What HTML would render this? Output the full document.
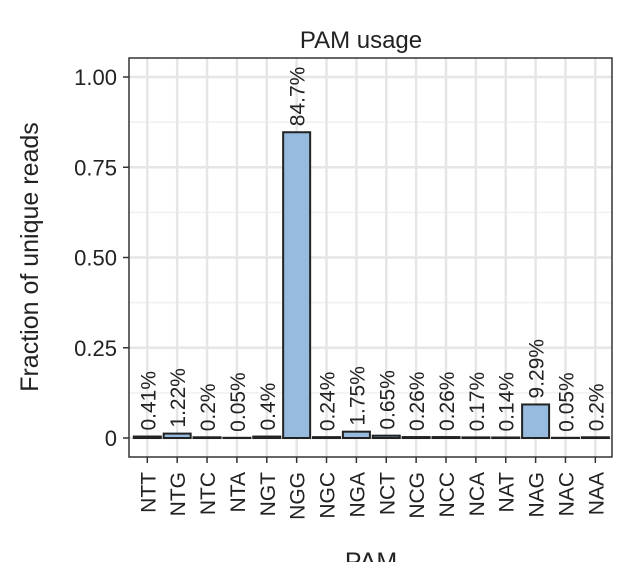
<!DOCTYPE html>
<html><head><meta charset="utf-8"><style>
body{margin:0;background:#fff}
svg{display:block;font-family:"Liberation Sans",sans-serif}
</style></head><body>
<svg id="c" width="630" height="562" viewBox="0 0 630 562">
<text x="361" y="48" font-size="24" text-anchor="middle" fill="#222">PAM usage</text>
<text transform="translate(38,257) rotate(-90)" font-size="25" text-anchor="middle" fill="#222">Fraction of unique reads</text>
<text x="371" y="570" font-size="25" text-anchor="middle" fill="#222">PAM</text>
<g id="grid"></g><g id="bars"></g><g id="axes"></g>
</svg>
<script>
const categories=["NTT","NTG","NTC","NTA","NGT","NGG","NGC","NGA","NCT","NCG","NCC","NCA","NAT","NAG","NAC","NAA"];
const values=[0.0041,0.0122,0.002,0.0005,0.004,0.847,0.0024,0.0175,0.0065,0.0026,0.0026,0.0017,0.0014,0.0929,0.0005,0.002];
const valueLabels=["0.41%","1.22%","0.2%","0.05%","0.4%","84.7%","0.24%","1.75%","0.65%","0.26%","0.26%","0.17%","0.14%","9.29%","0.05%","0.2%"];
const yTicks=[0,0.25,0.5,0.75,1];
const yTickLabels=["0","0.25","0.50","0.75","1.00"];
const NS="http://www.w3.org/2000/svg";
const L=129,R=612,T=58,B=457;
const x=i=>147.3+i*29.87;
const y=v=>438-v*361;
function mk(t,a,p){const e=document.createElementNS(NS,t);for(const k in a)e.setAttribute(k,a[k]);p.appendChild(e);return e;}
const g=document.getElementById('grid'),b=document.getElementById('bars'),ax=document.getElementById('axes');
mk('rect',{x:L,y:T,width:R-L,height:B-T,fill:'#fff'},g);
for(let k=0;k<yTicks.length-1;k++){const v=(yTicks[k]+yTicks[k+1])/2;const l=mk('line',{x1:L,x2:R,y1:y(v),y2:y(v),stroke:'#f0f0f0','stroke-width':1.5},g);

}
yTicks.forEach(v=>{const l=mk('line',{x1:L,x2:R,y1:y(v),y2:y(v),stroke:'#e6e6e6','stroke-width':2.5},g);

});
categories.forEach((c,i)=>{const l=mk('line',{x1:x(i),x2:x(i),y1:T,y2:B,stroke:'#e6e6e6','stroke-width':2.5},g);

});
const bw=27;
categories.forEach((c,i)=>{
const v=values[i];const top=y(v);
const r=mk('rect',{x:x(i)-bw/2,y:top,width:bw,height:Math.max(y(0)-top,0.1),fill:'#97badf',stroke:'#222','stroke-width':2},b);


const t=mk('text',{transform:`translate(${x(i)+8},${top-6}) rotate(-90)`,'font-size':21,fill:'#222'},b);
t.textContent=valueLabels[i];


const tk=mk('line',{x1:x(i),x2:x(i),y1:B,y2:B+6,stroke:'#333','stroke-width':1.5},ax);


const tl=mk('text',{transform:`translate(${x(i)+8},${B+15}) rotate(-90)`,'font-size':21,fill:'#222','text-anchor':'end'},ax);
tl.textContent=c;


});
yTicks.forEach((v,k)=>{
const tk=mk('line',{x1:L-6,x2:L,y1:y(v),y2:y(v),stroke:'#333','stroke-width':1.5},ax);


const tl=mk('text',{x:L-12,y:y(v)+8,'font-size':22,fill:'#222','text-anchor':'end'},ax);
tl.textContent=yTickLabels[k];


});
const fr=mk('rect',{x:L,y:T,width:R-L,height:B-T,fill:'none',stroke:'#333','stroke-width':1.5},ax);


</script>
</body></html>
